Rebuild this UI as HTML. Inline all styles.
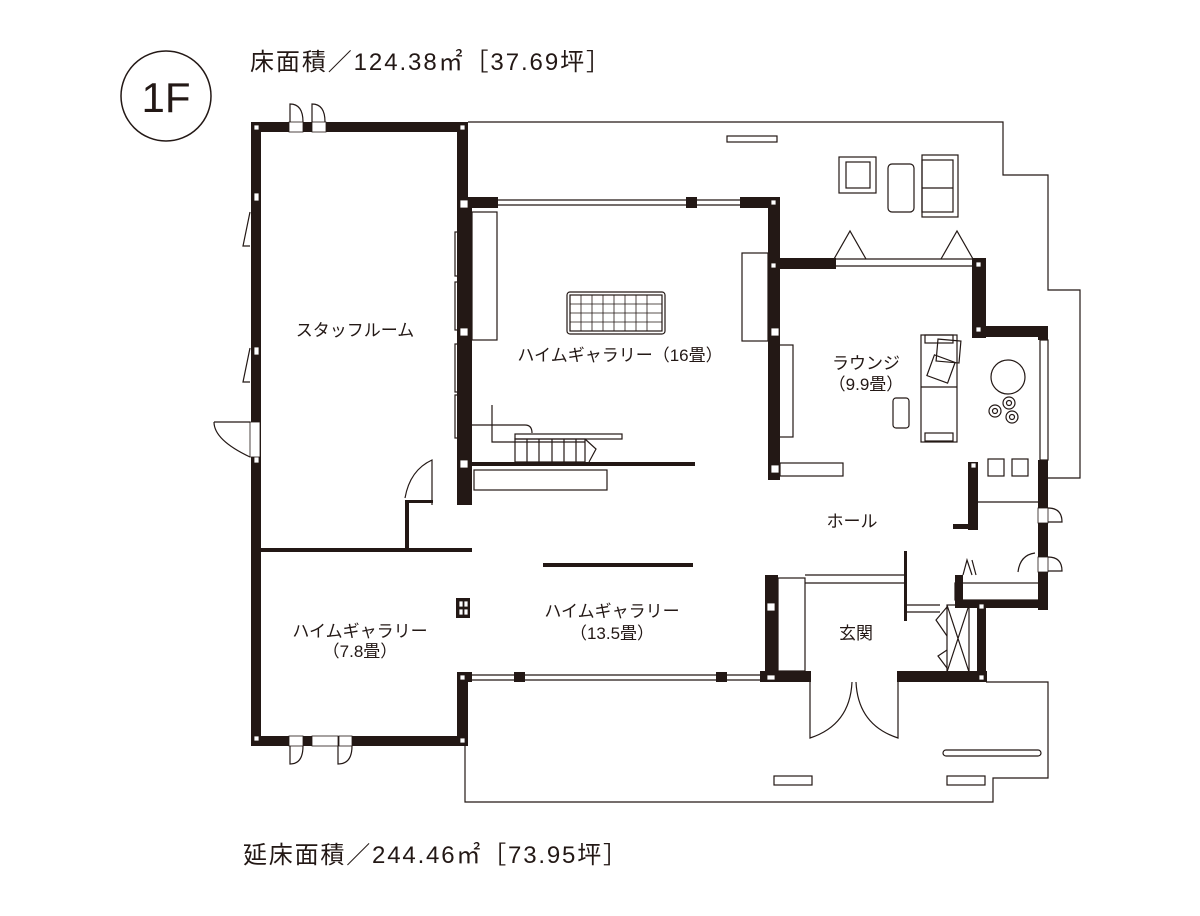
<!DOCTYPE html>
<html><head><meta charset="utf-8"><style>
html,body{margin:0;padding:0;background:#fff;}
svg{display:block;}
text{font-family:"Liberation Sans","Noto Sans CJK JP",sans-serif;fill:#231815;}
</style></head><body>
<svg width="1200" height="916" viewBox="0 0 1200 916" xmlns="http://www.w3.org/2000/svg">
<g fill="none" stroke="#231815" stroke-width="1.2">
<circle cx="166" cy="96" r="45" stroke-width="1.5"/>
<polyline points="468,122 1003,122 1003,175 1048,175 1048,290 1080,290 1080,478 1048,478"/>
<polyline points="986,682 1048,682 1048,778 993,778 993,802 465,802 465,682"/>
<rect x="727" y="136" width="50" height="6"/>
<rect x="839" y="157" width="37" height="36"/><rect x="846" y="162" width="24" height="26"/>
<rect x="888" y="164" width="26" height="48" rx="4"/>
<rect x="922" y="155" width="36" height="62"/><rect x="922" y="160" width="31" height="52"/><line x1="922" y1="188" x2="953" y2="188"/>
<polyline points="834,259 850,231 866,259"/><polyline points="941,259 957,231 973,259"/>
<rect x="567" y="292" width="98" height="42" rx="3"/>
<rect x="570" y="295" width="92" height="36"/>
<path d="M581 295V331M592 295V331M603 295V331M614 295V331M625 295V331M636 295V331M647 295V331M570 304H662M570 313H662M570 322H662" stroke-width="0.8"/>
<rect x="472" y="212" width="25" height="128"/>
<rect x="455" y="232" width="13" height="44"/><rect x="455" y="282" width="13" height="48"/><rect x="455" y="344" width="13" height="48"/><rect x="455" y="395" width="13" height="43"/>
<rect x="742" y="253" width="26" height="88"/>
<rect x="771" y="345" width="22" height="92"/><line x1="777" y1="350" x2="777" y2="432"/>
<path d="M472 425H525Q532 425 532 433M492 405V442H585"/>
<rect x="515" y="434" width="107" height="5"/>
<rect x="515" y="439" width="70" height="23"/>
<path d="M527 439V462M539 439V462M552 439V462M564 439V462M576 439V462M585 439L596 449L589 462"/>
<rect x="474" y="470" width="133" height="20"/>
<rect x="921" y="335" width="36" height="107"/>
<rect x="925" y="335" width="28" height="8"/><rect x="925" y="433" width="28" height="8"/>
<line x1="921" y1="387" x2="957" y2="387"/>
<rect x="937" y="340" width="23" height="22" transform="rotate(5 948 351)"/>
<rect x="930" y="358" width="22" height="22" transform="rotate(20 941 369)"/>
<rect x="893" y="398" width="16" height="30" rx="3"/>
<circle cx="1008" cy="377" r="17"/>
<circle cx="995" cy="411" r="6"/><circle cx="1009" cy="403" r="6"/><circle cx="1012" cy="417" r="6"/>
<circle cx="995" cy="411" r="2.5"/><circle cx="1009" cy="403" r="2.5"/><circle cx="1012" cy="417" r="2.5"/>
<rect x="1040" y="340" width="8" height="120"/>
<rect x="780" y="463" width="63" height="13"/>
<rect x="988" y="459" width="16" height="17"/><rect x="1012" y="459" width="16" height="17"/>
<line x1="978" y1="502" x2="1040" y2="502"/>
<rect x="955" y="583" width="85" height="17"/>
<rect x="778" y="578" width="27" height="93"/>
<line x1="805" y1="575" x2="905" y2="575"/><line x1="805" y1="583" x2="905" y2="583"/>
<line x1="905" y1="605" x2="940" y2="605"/><line x1="905" y1="612" x2="940" y2="612"/>
<rect x="947" y="605" width="22" height="67"/>
<path d="M947 605L969 672M969 605L947 672"/>
<path d="M947 607L936 620L947 636M947 650L938 656L947 668"/>
<path d="M963 575L967 560L972 575M976 575L972 560"/>
<path d="M1035 553Q1020 555 1018 572M1048 508Q1062 508 1062 522H1048M1048 557Q1062 557 1062 571H1048"/>
<path d="M810 682V738Q850 725 852 682M898 682V738Q858 725 856 682"/>
<rect x="943" y="750" width="98" height="6" rx="3"/>
<rect x="774" y="776" width="38" height="9"/><rect x="947" y="776" width="38" height="9"/>
<path d="M290 122V104Q303 104 303 122M312 122V104Q325 104 325 122"/>
<path d="M250 212L243 246H250M250 348L243 382H250"/>
<path d="M214 422Q232 422 250 422M214 422Q214 440 250 457"/>
<path d="M405 498Q410 470 432 460V505"/>
<path d="M290 746V764Q303 764 303 746M338 746V764Q352 764 352 746"/>
<line x1="497" y1="200" x2="686" y2="200"/><line x1="497" y1="205" x2="686" y2="205"/>
<line x1="697" y1="200" x2="740" y2="200"/><line x1="697" y1="205" x2="740" y2="205"/>
<line x1="835" y1="259" x2="972" y2="259"/><line x1="835" y1="266" x2="972" y2="266"/>
<line x1="470" y1="675" x2="760" y2="675"/><line x1="470" y1="680" x2="760" y2="680"/>
</g>
<g fill="#231815">
<rect x="251" y="122" width="217" height="10"/>
<rect x="251" y="122" width="10" height="624"/>
<rect x="251" y="736" width="217" height="10"/>
<rect x="457" y="122" width="11" height="78"/>
<rect x="457" y="200" width="15" height="305"/>
<rect x="457" y="672" width="11" height="74"/>
<rect x="458" y="197" width="40" height="11"/>
<rect x="686" y="197" width="11" height="11"/>
<rect x="740" y="197" width="40" height="11"/>
<rect x="768" y="197" width="12" height="283"/>
<rect x="768" y="258" width="68" height="11"/>
<rect x="972" y="258" width="14" height="80"/>
<rect x="972" y="326" width="76" height="11"/>
<rect x="1038" y="326" width="10" height="14"/>
<rect x="1038" y="460" width="10" height="150"/>
<rect x="968" y="462" width="10" height="68"/>
<rect x="953" y="524" width="25" height="5"/>
<rect x="955" y="600" width="93" height="8"/>
<rect x="955" y="575" width="8" height="30"/>
<rect x="977" y="603" width="9" height="77"/>
<rect x="765" y="575" width="13" height="107"/>
<rect x="760" y="671" width="51" height="11"/>
<rect x="897" y="671" width="90" height="11"/>
<rect x="458" y="672" width="14" height="10"/>
<rect x="514" y="672" width="11" height="10"/>
<rect x="716" y="672" width="11" height="10"/>
<rect x="472" y="462" width="223" height="4"/>
<rect x="543" y="563" width="150" height="4"/>
<rect x="260" y="548" width="212" height="4"/>
<rect x="405" y="500" width="4" height="50"/>
<rect x="405" y="500" width="28" height="3"/>
<rect x="904" y="551" width="3" height="70"/>
<rect x="456" y="598" width="14" height="20"/>
</g>
<g fill="#fff" stroke="#231815" stroke-width="0.8">
<rect x="254" y="125" width="5" height="5"/><rect x="460" y="125" width="5" height="5"/>
<rect x="254" y="193" width="5" height="8"/><rect x="254" y="347" width="5" height="8"/><rect x="254" y="455" width="5" height="8"/>
<rect x="460" y="200" width="8" height="8"/><rect x="460" y="328" width="8" height="8"/><rect x="460" y="460" width="8" height="8"/>
<rect x="771" y="200" width="5" height="5"/><rect x="771" y="263" width="5" height="5"/><rect x="771" y="328" width="8" height="8"/><rect x="771" y="465" width="8" height="8"/>
<rect x="976" y="262" width="5" height="5"/><rect x="976" y="327" width="5" height="5"/><rect x="971" y="463" width="5" height="5"/>
<rect x="459" y="601" width="4" height="6"/><rect x="464" y="601" width="4" height="6"/><rect x="459" y="609" width="4" height="6"/><rect x="464" y="609" width="4" height="6"/>
<rect x="767" y="603" width="8" height="8"/>
<rect x="460" y="675" width="5" height="5"/><rect x="767" y="675" width="8" height="5"/><rect x="979" y="604" width="5" height="5"/><rect x="979" y="675" width="5" height="5"/>
<rect x="254" y="736" width="5" height="5"/><rect x="460" y="738" width="5" height="5"/>
<rect x="289" y="736" width="14" height="10"/><rect x="312" y="736" width="26" height="10"/><rect x="339" y="736" width="13" height="10"/>
<rect x="289" y="122" width="14" height="10"/><rect x="312" y="122" width="14" height="10"/>
<rect x="1038" y="508" width="10" height="15"/><rect x="1038" y="557" width="10" height="15"/>
<rect x="250" y="422" width="10" height="35"/>
</g>
<text x="166" y="112" font-size="42" text-anchor="middle">1F</text>
<text x="250" y="70" font-size="24" textLength="360" lengthAdjust="spacing">床面積／124.38㎡［37.69坪］</text>
<text x="243" y="863" font-size="24" textLength="384" lengthAdjust="spacing">延床面積／244.46㎡［73.95坪］</text>
<g font-size="17" text-anchor="middle">
<text x="355" y="336">スタッフルーム</text>
<text x="620" y="361">ハイムギャラリー（16畳）</text>
<text x="866" y="369">ラウンジ</text>
<text x="866" y="390">（9.9畳）</text>
<text x="852" y="527">ホール</text>
<text x="612" y="617">ハイムギャラリー</text>
<text x="612" y="639">（13.5畳）</text>
<text x="360" y="637">ハイムギャラリー</text>
<text x="360" y="657">（7.8畳）</text>
<text x="856" y="639">玄関</text>
</g>
</svg>
</body></html>
